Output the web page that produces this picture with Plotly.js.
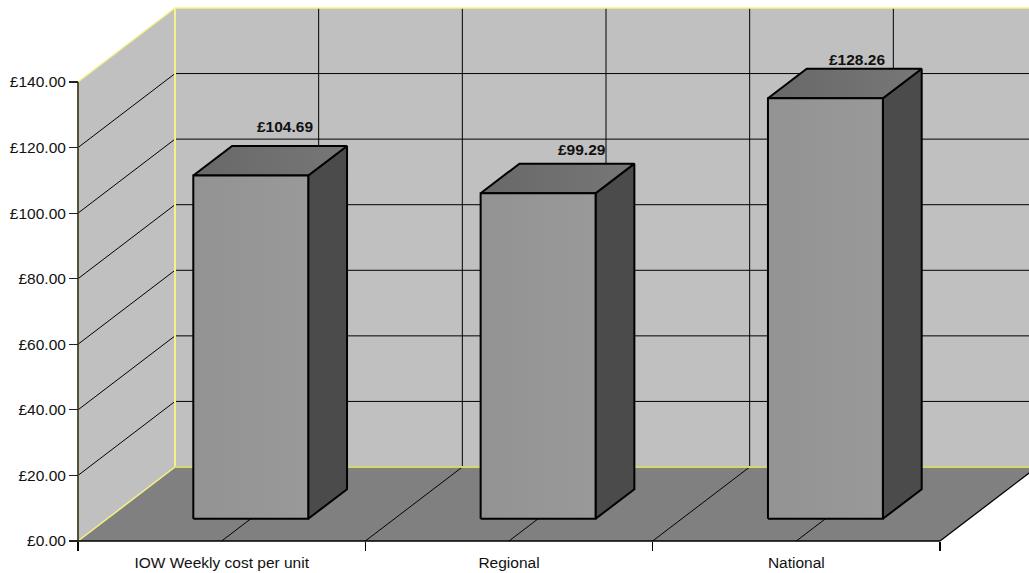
<!DOCTYPE html>
<html>
<head>
<meta charset="utf-8">
<script src="https://cdn.plot.ly/plotly-3.0.1.min.js"></script>
<style>html,body{margin:0;padding:0;background:#fff}#chart{width:1029px;height:573px}</style>
</head>
<body>
<div id="chart"></div>
<script>
// Weekly cost per unit, compared across three levels
const categories = ['IOW Weekly cost per unit', 'Regional', 'National'];
const weeklyCost = [104.69, 99.29, 128.26];
const valueTicks = [0, 20, 40, 60, 80, 100, 120, 140];
const labelShiftX = [14.5, 24, 12];
const labelShiftY = [34, 29, 24];

// Oblique projection: a point at depth d (0 front, 1 back) slides right and up
const depthX = 0.3376;
const depthY = 22.57;
const px = (x, d) => x + d * depthX;
const py = (v, d) => v + d * depthY;

const maxValue = 140;
const nCat = categories.length;
const FONT = 'Liberation Sans, Arial, sans-serif';

// Scale of the axes on the page, and the drawing room kept around the front corner
const pxPerCat = 287.33, pxPerValue = 3.2786;
const marginL = 70, marginR = 0, marginT = 4, marginB = 20;
const originX = 78, originY = 541;
const W = 1029, H = 573;
const plotW = W - marginL - marginR, plotH = H - marginT - marginB;

function poly(corners, fill, line, gradient) {
  const t = {
    type: 'scatter', mode: 'lines', hoverinfo: 'skip', showlegend: false,
    x: corners.map(c => px(c[0], c[2])),
    y: corners.map(c => py(c[1], c[2])),
    fill: fill ? 'toself' : 'none',
    fillcolor: fill || undefined,
    line: line || { width: 0, color: 'rgba(0,0,0,0)' }
  };
  if (gradient) {
    t.fillgradient = { type: 'horizontal', colorscale: [[0, gradient[0]], [1, gradient[1]]] };
  }
  return t;
}

const grid = { color: '#000', width: 1 };
const edge = { color: '#F6F284', width: 1.5 };
const backEdge = { color: '#F4F08C', width: 2 };
const axisLine = { color: '#000', width: 1.3 };
const traces = [];

// Walls and floor
traces.push(poly([[0, 0, 0], [0, maxValue, 0], [0, maxValue, 1], [0, 0, 1]], '#C0C0C0'));
traces.push(poly([[0, 0, 1], [0, maxValue, 1], [nCat, maxValue, 1], [nCat, 0, 1]], '#C0C0C0'));
traces.push(poly([[0, 0, 0], [0, 0, 1], [nCat, 0, 1], [nCat, 0, 0]], '#808080'));

// Value gridlines run along the side wall and across the back wall
valueTicks.slice(1, -1).forEach(v => {
  traces.push(poly([[0, v, 0], [0, v, 1], [nCat, v, 1]], null, grid));
});
// Category gridlines, every half step, over the floor and up the back wall
for (let k = 1; k < nCat * 2; k++) {
  const c = k / 2;
  traces.push(poly([[c, 0, 0], [c, 0, 1], [c, maxValue, 1]], null, grid));
}
// Wall outlines
traces.push(poly([[0, 0, 0], [0, maxValue, 0], [0, maxValue, 1]], null, edge));
traces.push(poly([[0, maxValue, 1], [nCat, maxValue, 1]], null, edge));
traces.push(poly([[0, 0, 0], [0, 0, 1]], null, edge));
traces.push(poly([[0, maxValue, 1], [0, 0, 1]], null, backEdge));
traces.push(poly([[0, 0, 1], [nCat, 0, 1]], null, { color: '#D8D470', width: 2 }));
traces.push(poly([[nCat, 0, 0], [nCat, 0, 1]], null, axisLine));

// Front edges of the floor and side wall
traces.push(poly([[0, maxValue, 0], [0, 0, 0], [nCat, 0, 0]], null, axisLine));

// Bars: side, top, then front face
const barLine = { color: '#000', width: 2 };
weeklyCost.forEach((v, i) => {
  const l = i + 0.3, r = i + 0.7, f = 0.3, b = 0.7;
  traces.push(poly([[r, 0, f], [r, 0, b], [r, v, b], [r, v, f], [r, 0, f]], '#4B4B4B', barLine));
  traces.push(poly([[l, v, f], [l, v, b], [r, v, b], [r, v, f], [l, v, f]], '#6F6F6F', barLine, ['#686868', '#777777']));
  traces.push(poly([[l, 0, f], [l, v, f], [r, v, f], [r, 0, f], [l, 0, f]], '#969696', barLine, ['#939393', '#999999']));
});

const layout = {
  width: W, height: H,
  margin: { l: marginL, r: marginR, t: marginT, b: marginB, pad: 0 },
  paper_bgcolor: '#fff', plot_bgcolor: 'rgba(0,0,0,0)',
  showlegend: false,
  font: { family: FONT, size: 15.5, color: '#000' },
  xaxis: {
    range: [-(originX - marginL) / pxPerCat, (W - marginR - originX) / pxPerCat],
    anchor: 'free', position: (H - marginB - originY) / plotH,
    fixedrange: true, showgrid: false, zeroline: false, showline: false,
    tickmode: 'array',
    tickvals: categories.map((_, i) => i + 0.5),
    ticktext: categories,
    ticks: '', ticklabelstandoff: 10,
    tickfont: { family: FONT, size: 15.5, color: '#111' },
    minor: {
      tickmode: 'array', tickvals: Array.from({ length: nCat + 1 }, (_, i) => i),
      ticks: 'outside', ticklen: 9, tickwidth: 1.2, tickcolor: '#000', showgrid: false
    }
  },
  yaxis: {
    range: [-(H - marginB - originY) / pxPerValue, (originY - marginT) / pxPerValue],
    anchor: 'free', position: (originX - marginL) / plotW,
    fixedrange: true, showgrid: false, zeroline: false, showline: false,
    tickmode: 'array', tickvals: valueTicks,
    ticktext: valueTicks.map(v => '£' + v.toFixed(2)),
    ticks: 'outside', ticklen: 9, tickwidth: 1.2, tickcolor: '#222',
    tickfont: { family: FONT, size: 15.5, color: '#111' }
  },
  annotations: weeklyCost.map((v, i) => ({
    x: px(i + 0.5, 0.5), y: py(v, 0.5),
    xref: 'x', yref: 'y',
    text: '<b>£' + v.toFixed(2) + '</b>',
    showarrow: false, xanchor: 'center', yanchor: 'middle',
    xshift: labelShiftX[i], yshift: labelShiftY[i],
    font: { family: FONT, size: 15.5, color: '#111' }
  }))
};

Plotly.newPlot('chart', traces, layout, { displayModeBar: false, responsive: false, staticPlot: true });
</script>
</body>
</html>
